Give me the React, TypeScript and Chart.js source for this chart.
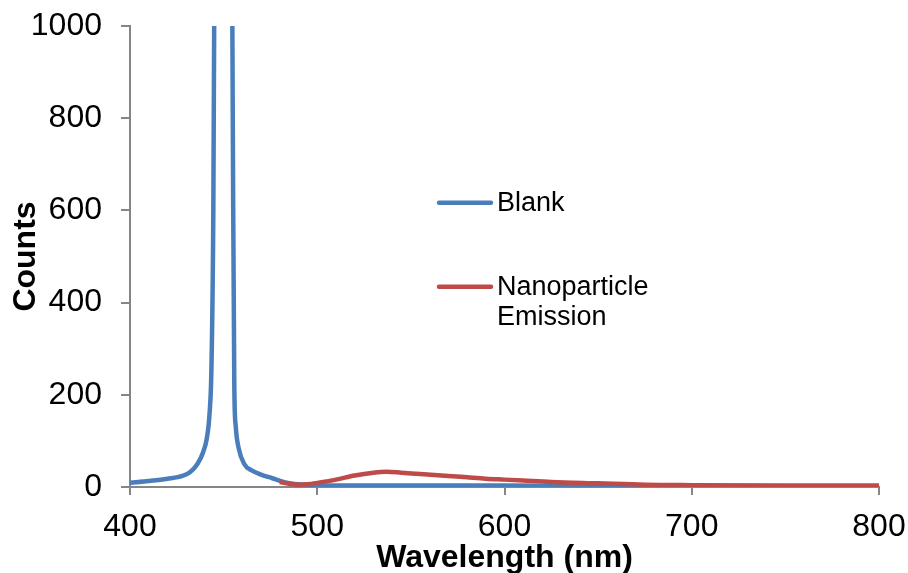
import React, { useEffect, useRef } from "react";
import { Chart, registerables } from "chart.js";

Chart.register(...registerables);

const blankX = [400, 410, 420, 428, 432, 436, 439, 441, 442.5, 443.5, 444.5, 445.5, 447, 449.5, 452, 454, 455, 455.7, 456.5, 458, 461, 465, 470, 476, 483, 490, 500, 520, 550, 600, 650, 700, 750, 800];
const blankY = [9, 13, 18, 24, 32, 50, 75, 105, 160, 260, 600, 1500, 3000, 4000, 3000, 1600, 700, 220, 130, 85, 50, 36, 27, 19, 10, 6, 4, 3, 3, 3, 2, 2, 1, 1];

const nanoX = [480, 485, 490, 495, 500, 510, 520, 530, 537, 545, 555, 570, 580, 590, 600, 610, 625, 650, 675, 700, 750, 800];
const nanoY = [11, 7, 5, 6, 9, 16, 25, 31, 33, 31, 28, 24, 21, 18, 16, 14, 11, 8, 5, 4, 3, 3];

const xTicks = { min: 400, max: 800, step: 100 };
const yTicks = { min: 0, max: 1000, step: 200 };

const legendItems = [
  { label: ["Blank"], color: "#4A7EBB" },
  { label: ["Nanoparticle", "Emission"], color: "#BE4B48" },
];

const FONT = "'Liberation Sans', Arial, sans-serif";
const AXIS = "#868686";

const legendPlugin = {
  id: "inlineLegend",
  afterDraw(chart: any) {
    const ctx = chart.ctx;
    ctx.save();
    const rows = [202.7, 286.7];
    legendItems.forEach((item, i) => {
      const y = rows[i];
      ctx.strokeStyle = item.color;
      ctx.lineWidth = 4.5;
      ctx.lineCap = "round";
      ctx.beginPath();
      ctx.moveTo(439, y);
      ctx.lineTo(491, y);
      ctx.stroke();
      ctx.fillStyle = "#000";
      ctx.font = `27px ${FONT}`;
      ctx.textBaseline = "middle";
      ctx.textAlign = "left";
      item.label.forEach((t, j) => {
        ctx.fillText(t, 497, y + 0.6 + j * 30.6);
      });
    });
    ctx.restore();
  },
};

const zeroPad = (s: any) => {
  s.paddingTop = 0;
  s.paddingBottom = 0;
  s.paddingLeft = 0;
  s.paddingRight = 0;
};

export default function App() {
  const ref = useRef<HTMLCanvasElement>(null);
  useEffect(() => {
    if (!ref.current) return;
    const chart = new Chart(ref.current, {
      type: "line",
      data: {
        datasets: [
          {
            label: "Blank",
            data: blankX.map((x, i) => ({ x, y: blankY[i] })),
            borderColor: "#4A7EBB",
            borderWidth: 4.5,
            pointRadius: 0,
            cubicInterpolationMode: "monotone",
            order: 2,
          },
          {
            label: "Nanoparticle Emission",
            data: nanoX.map((x, i) => ({ x, y: nanoY[i] })),
            borderColor: "#BE4B48",
            borderWidth: 4.5,
            pointRadius: 0,
            cubicInterpolationMode: "monotone",
            order: 1,
          },
        ],
      },
      options: {
        responsive: false,
        animation: false,
        layout: { padding: { top: 26, right: 29, left: 0, bottom: 0 } },
        plugins: { legend: { display: false }, tooltip: { enabled: false } },
        scales: {
          x: {
            type: "linear",
            min: xTicks.min,
            max: xTicks.max,
            afterFit: (s: any) => {
              s.height = 103;
              zeroPad(s);
            },
            ticks: {
              stepSize: xTicks.step,
              color: "#000",
              padding: 13,
              font: { family: FONT, size: 32, lineHeight: 1.2 },
              callback: (v: any) => String(v),
            },
            grid: { drawOnChartArea: false, drawTicks: true, tickLength: 8, color: AXIS, lineWidth: 2 },
            border: { color: AXIS, width: 2 },
            title: {
              display: true,
              text: "Wavelength (nm)",
              color: "#000",
              font: { family: FONT, size: 32, weight: "bold", lineHeight: 1.2 },
              padding: { top: 0, bottom: 12.8 },
            },
          },
          y: {
            min: yTicks.min,
            max: yTicks.max,
            afterFit: (s: any) => {
              s.width = 130;
              zeroPad(s);
            },
            ticks: {
              stepSize: yTicks.step,
              color: "#000",
              padding: 19,
              font: { family: FONT, size: 32, lineHeight: 1.2 },
              callback: (v: any) => String(v),
            },
            grid: { drawOnChartArea: false, drawTicks: true, tickLength: 9, color: AXIS, lineWidth: 2 },
            border: { color: AXIS, width: 2 },
            title: {
              display: true,
              text: "Counts",
              color: "#000",
              font: { family: FONT, size: 32, weight: "bold", lineHeight: 1.2 },
              padding: { top: 6.8, bottom: 0 },
            },
          },
        },
      },
      plugins: [legendPlugin],
    } as any);
    return () => chart.destroy();
  }, []);
  return (
    <div style={{ position: "fixed", left: 0, top: 0, width: 908, height: 573, overflow: "hidden", background: "#fff" }}>
      <canvas ref={ref} width={908} height={590} style={{ display: "block", width: 908, height: 590 }} />
    </div>
  );
}
